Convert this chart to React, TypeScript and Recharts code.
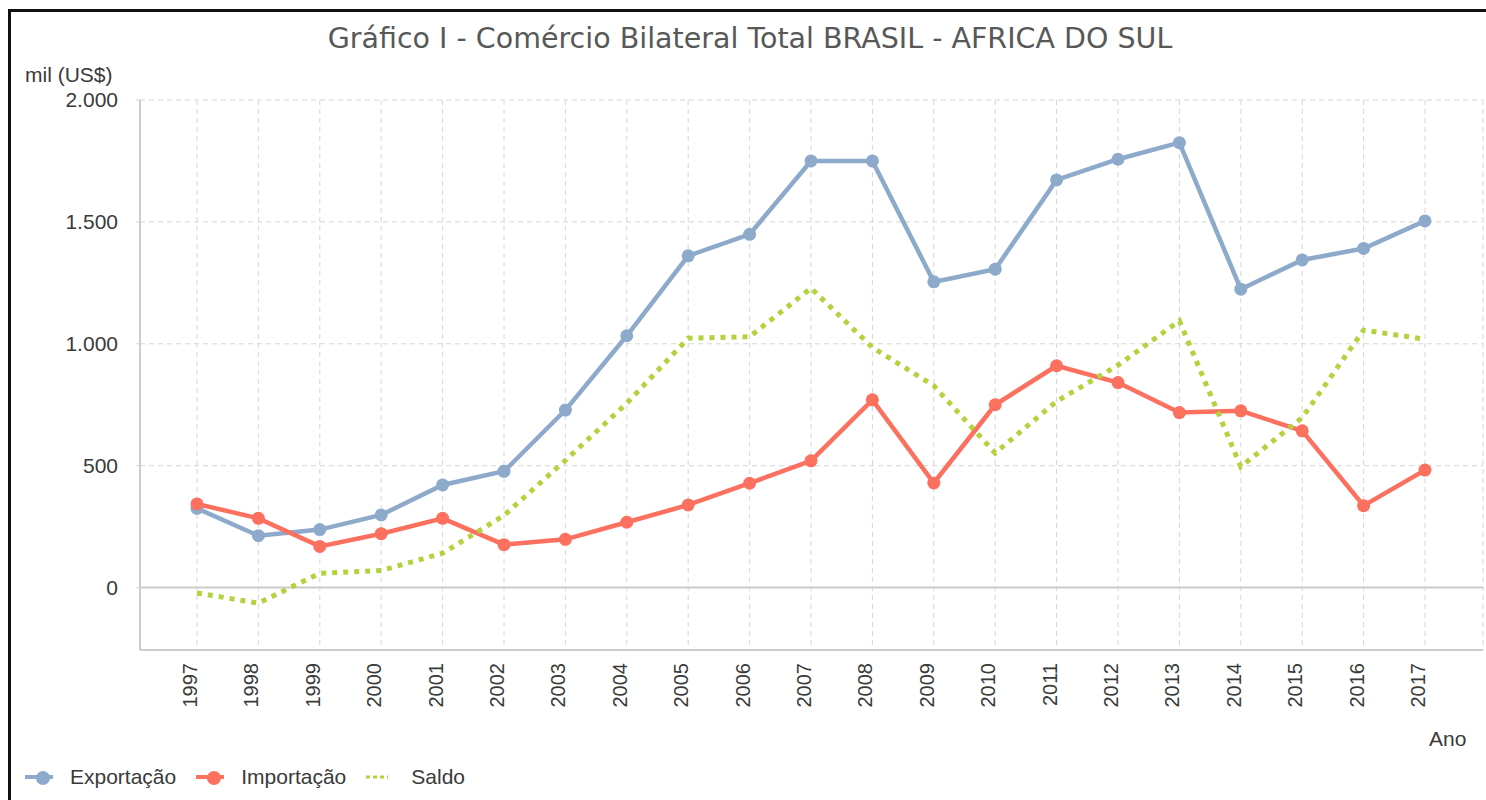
import React from "react";
import { LineChart, Line, XAxis, YAxis, CartesianGrid, ReferenceLine } from "recharts";

const years = ["1997", "1998", "1999", "2000", "2001", "2002", "2003", "2004", "2005", "2006", "2007", "2008", "2009", "2010", "2011", "2012", "2013", "2014", "2015", "2016", "2017"];
const exportacao = [325, 213, 238, 298, 421, 477, 728, 1033, 1361, 1449, 1750, 1750, 1254, 1306, 1672, 1757, 1825, 1224, 1344, 1391, 1504];
const importacao = [343, 284, 169, 221, 284, 176, 198, 268, 339, 428, 520, 770, 429, 750, 910, 841, 718, 725, 643, 336, 482];
const saldo = [-22, -64, 59, 70, 141, 296, 522, 756, 1023, 1029, 1228, 985, 828, 552, 764, 912, 1094, 496, 697, 1056, 1019];
const yTicks = [0, 500, 1000, 1500, 2000];

const series = [
  { key: "exportacao", name: "Exportação", color: "#8eaacb", dashed: false },
  { key: "importacao", name: "Importação", color: "#fb705e", dashed: false },
  { key: "saldo", name: "Saldo", color: "#b2d33e", dashed: true },
];

const data = years.map((y, i) => ({
  ano: y,
  exportacao: exportacao[i],
  importacao: importacao[i],
  saldo: saldo[i],
}));

const FONT = "'Liberation Sans', Arial, sans-serif";

const fmt = (v: number) => v.toLocaleString("de-DE");

function YearTick(props: any) {
  const { x, payload } = props;
  return (
    <text
      transform={`translate(${x},663) rotate(-90)`}
      textAnchor="end"
      fontSize={20}
      fontFamily={FONT}
      fill="#3a3a3a"
    >
      {payload.value}
    </text>
  );
}

export default function App() {
  return (
    <div style={{ position: "absolute", left: 0, top: 0, width: 1486, height: 800, background: "#fff", overflow: "hidden" }}>
      <div style={{ position: "absolute", left: 8, top: 9, width: 1500, height: 820, borderLeft: "3px solid #111", borderTop: "3px solid #111" }} />
      <div style={{ position: "absolute", left: 0, top: 22, width: 1500, textAlign: "center", fontFamily: "'DejaVu Sans', sans-serif", fontSize: 28.5, color: "#585858" }}>
        Gráfico I - Comércio Bilateral Total BRASIL - AFRICA DO SUL
      </div>
      <div style={{ position: "absolute", left: 25, top: 63, fontFamily: FONT, fontSize: 21, color: "#3a3a3a" }}>mil (US$)</div>
      <div style={{ position: "absolute", left: 1429, top: 727, fontFamily: FONT, fontSize: 21, color: "#3a3a3a" }}>Ano</div>

      <div style={{ position: "absolute", left: 0, top: 0 }}>
        <LineChart width={1486} height={800} data={data} margin={{ top: 100, right: 3, bottom: 50, left: 0 }}>
          <CartesianGrid stroke="#d6d6d6" strokeDasharray="5 4" />
          <XAxis
            dataKey="ano"
            padding={{ left: 57, right: 58 }}
            height={100}
            tickSize={0}
            tickMargin={0}
            tick={<YearTick />}
            axisLine={{ stroke: "#cccccc", strokeWidth: 2 }}
            interval={0}
          />
          <YAxis
            width={140}
            domain={[-256, 2000]}
            ticks={yTicks}
            tickFormatter={fmt}
            allowDataOverflow
            tickSize={4}
            tickMargin={18}
            tickLine={{ stroke: "#d6d6d6" }}
            axisLine={{ stroke: "#cccccc", strokeWidth: 2 }}
            tick={{ fontSize: 21, fontFamily: FONT, fill: "#3a3a3a" }}
          />
          <ReferenceLine y={0} stroke="#cccccc" strokeWidth={2} />
          {series.map((s) => (
            <Line
              key={s.key}
              type="linear"
              dataKey={s.key}
              name={s.name}
              stroke={s.color}
              strokeWidth={s.dashed ? 5 : 4.5}
              strokeDasharray={s.dashed ? "5 6" : undefined}
              dot={s.dashed ? false : { r: 6.5, fill: s.color, stroke: s.color, strokeWidth: 0 }}
              isAnimationActive={false}
            />
          ))}
        </LineChart>
      </div>

      <div style={{ position: "absolute", left: 25, top: 765, display: "flex", alignItems: "center", fontFamily: FONT, fontSize: 21, color: "#3a3a3a" }}>
        {series.map((s) => (
          <div key={s.key} style={{ display: "flex", alignItems: "center", marginRight: 20 }}>
            <svg width={28} height={20} style={{ marginRight: 17 }}>
              {s.dashed ? (
                <line x1={0} y1={10} x2={22} y2={10} stroke={s.color} strokeWidth={3} strokeDasharray="4 3" />
              ) : (
                <>
                  <line x1={0} y1={10} x2={28} y2={10} stroke={s.color} strokeWidth={4} />
                  <circle cx={18} cy={11} r={7} fill={s.color} />
                </>
              )}
            </svg>
            <span>{s.name}</span>
          </div>
        ))}
      </div>
    </div>
  );
}
